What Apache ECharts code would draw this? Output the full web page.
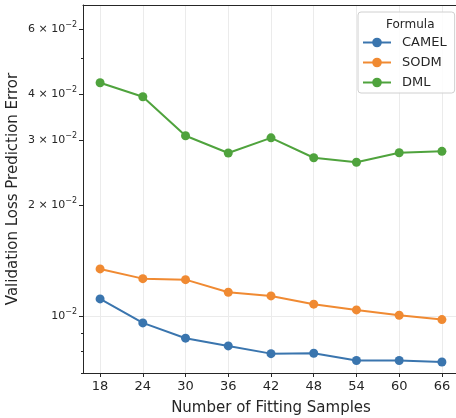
<!DOCTYPE html>
<html>
<head>
<meta charset="utf-8">
<script src="https://cdn.jsdelivr.net/npm/echarts@6/dist/echarts.min.js"></script>
<style>
  html, body { margin: 0; padding: 0; background: #fff; }
  #chart { width: 456px; height: 418px; }
</style>
</head>
<body>
<div id="chart"></div>
<script>
// x categories (number of fitting samples)
const samples = [18, 24, 30, 36, 42, 48, 54, 60, 66];
// validation loss prediction error per formula
const camel = [0.01112, 0.00957, 0.00870, 0.00829, 0.00790, 0.00792, 0.00757, 0.00757, 0.00750];
const sodm = [0.01341, 0.01262, 0.01254, 0.01159, 0.01133, 0.01076, 0.01038, 0.01004, 0.00977];
const dml = [0.0429, 0.0393, 0.0308, 0.02765, 0.0304, 0.02685, 0.0261, 0.0277, 0.02795];
// y tick values
const majorTicks = [0.01, 0.02, 0.03, 0.04, 0.06];
const minorTicks = [0.007, 0.008, 0.009, 0.05];

const FONT = 'DejaVu Sans';
const yMin = 0.00700, yMax = 0.0697;

function pairs(ys) {
  return ys.map((y, i) => [samples[i], y]);
}

function yLabel(v) {
  const m = Math.round(v * 100);
  if (m === 1) return '10{sup|−2}';
  return m + ' × 10{sup|−2}';
}

const chart = echarts.init(document.getElementById('chart'), null, { renderer: 'canvas' });

const logAxis = (extra) => Object.assign({
  type: 'log',
  logBase: 10,
  min: yMin,
  max: yMax,
  position: 'left',
  axisLine: { show: false },
  axisTick: { show: false },
  axisLabel: { show: false },
  splitLine: { show: false }
}, extra);

const mk = (name, data, color) => ({
  name: name,
  type: 'line',
  data: pairs(data),
  yAxisIndex: 0,
  symbol: 'circle',
  symbolSize: 9,
  lineStyle: { width: 2, color: color },
  itemStyle: { color: color },
  emphasis: { disabled: true }
});

const option = {
  animation: false,
  backgroundColor: '#fff',
  textStyle: { fontFamily: FONT },
  grid: {
    left: 83, top: 5, right: -3, bottom: 45,
    outerBoundsMode: 'none',
    containLabel: false
  },
  title: {
    text: 'Formula',
    left: 381, top: 14,
    textStyle: { fontFamily: FONT, fontSize: 12, fontWeight: 'normal', color: '#262626' }
  },
  legend: {
    left: 358, top: 12,
    orient: 'vertical',
    padding: [24, 8, 4, 4],
    itemWidth: 28, itemHeight: 12,
    itemGap: 7,
    borderColor: '#d0d0d0', borderWidth: 1, borderRadius: 3,
    backgroundColor: 'rgba(255,255,255,0.85)',
    textStyle: { fontFamily: FONT, fontSize: 13, color: '#262626', padding: [0, 0, 0, 6] },
    data: ['CAMEL', 'SODM', 'DML']
  },
  xAxis: [
    {
      type: 'value',
      min: 15.6,
      max: 68.4,
      name: 'Number of Fitting Samples',
      nameLocation: 'middle',
      nameGap: 28,
      nameMoveOverlap: false,
      nameTextStyle: { fontFamily: FONT, fontSize: 15, color: '#262626' },
      axisLine: { show: true, onZero: false, lineStyle: { color: '#262626', width: 1 } },
      axisTick: { show: true, length: 4, customValues: samples, lineStyle: { color: '#262626' } },
      axisLabel: { customValues: samples, fontFamily: FONT, fontSize: 13, color: '#262626', margin: 7 },
      splitLine: { show: true, lineStyle: { color: '#ebebeb', width: 1 } }
    },
    {
      // top spine only
      type: 'value',
      min: 15.6,
      max: 68.4,
      position: 'top',
      axisLine: { show: true, onZero: false, lineStyle: { color: '#262626', width: 1 } },
      axisTick: { show: false },
      axisLabel: { show: false },
      splitLine: { show: false }
    }
  ],
  yAxis: [
    logAxis({
      name: 'Validation Loss Prediction Error',
      nameLocation: 'middle',
      nameGap: 62,
      nameMoveOverlap: false,
      nameTextStyle: { fontFamily: FONT, fontSize: 15, color: '#262626' },
      axisLine: { show: true, lineStyle: { color: '#262626', width: 1 } },
      axisTick: { show: true, length: 4, customValues: majorTicks, lineStyle: { color: '#262626' } },
      axisLabel: {
        show: true,
        customValues: majorTicks,
        margin: 6,
        formatter: yLabel,
        color: '#262626',
        fontFamily: FONT,
        fontSize: 11,
        rich: {
          sup: { fontFamily: FONT, fontSize: 8, color: '#262626', padding: [0, 0, 8, 0] }
        }
      }
    }),
    logAxis({
      axisTick: { show: true, length: 2, customValues: minorTicks, lineStyle: { color: '#262626' } }
    }),
    logAxis({
      splitLine: { show: true, lineStyle: { color: '#ebebeb', width: 1 } }
    })
  ],
  series: [
    mk('CAMEL', camel, '#3a75ae'),
    mk('SODM', sodm, '#f08a32'),
    mk('DML', dml, '#4fa33d')
  ]
};

chart.setOption(option);
</script>
</body>
</html>
